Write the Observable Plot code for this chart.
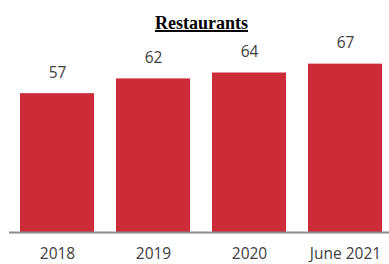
<!DOCTYPE html>
<html>
<head>
<meta charset="utf-8">
<script src="https://cdn.jsdelivr.net/npm/d3@7"></script>
<script src="https://cdn.jsdelivr.net/npm/@observablehq/plot@0.6"></script>
<style>
  html, body { margin: 0; padding: 0; background: #fff; }
  #wrap { position: relative; width: 389px; height: 264px; overflow: hidden; }
  #title { position: absolute; left: 201.5px; top: 14px; transform: translateX(-50%);
    font-family: "Liberation Serif", "DejaVu Serif", serif; font-weight: bold; font-size: 18px;
    line-height: 18px; text-decoration: underline; text-decoration-thickness: 2px; color: #000; white-space: nowrap; }
  #chart { position: absolute; left: 0; top: 0; }
</style>
</head>
<body>
<div id="wrap">
  <div id="chart"></div>
  <div id="title">Restaurants</div>
</div>
<script>
const categories = ["2018", "2019", "2020", "June 2021"];
const values = [57, 62, 64, 67];

const data = categories.map((c, i) => ({category: c, value: values[i]}));

const chart = Plot.plot({
  width: 389,
  height: 264,
  marginTop: 40,
  marginBottom: 32,
  marginLeft: 12,
  marginRight: 0,
  style: {fontFamily: "'Open Sans', sans-serif", fontSize: "15.5px", background: "transparent"},
  x: {domain: categories, paddingInner: 0.2316, paddingOuter: 0.07, label: null},
  y: {domain: [10, 75], axis: null},
  marks: [
    Plot.barY(data, {x: "category", y1: 10, y2: "value", fill: "#cb2c38"}),
    Plot.ruleY([10], {stroke: "#8a8a8a", strokeWidth: 2, insetLeft: -3}),
    Plot.text(data, {x: "category", y: "value", text: d => String(d.value), dy: -21, fill: "#404040", fontSize: 15.5}),
    Plot.axisX({tickSize: 0, tickPadding: 15, fontSize: 15.5, color: "#404040", label: null})
  ]
});
document.getElementById("chart").appendChild(chart);
</script>
</body>
</html>
